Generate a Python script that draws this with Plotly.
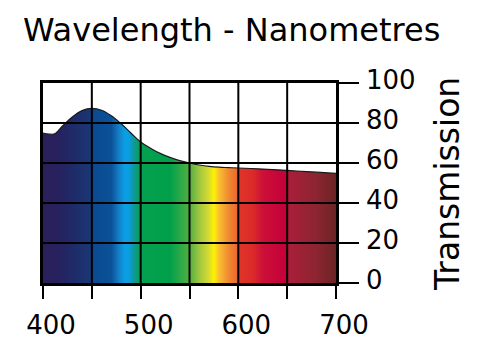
import plotly.graph_objects as go

# Transmission curve
wavelength = [400, 406, 412, 420, 430, 440, 450, 460, 470, 480, 490, 500, 510, 520,
              530, 540, 550, 560, 570, 580, 590, 600, 620, 640, 660, 680, 700]
transmission = [75.0, 74.5, 74.6, 78.5, 83.0, 86.2, 87.3, 86.4, 83.6, 79.6, 75.0, 70.5,
                67.4, 64.8, 62.8, 61.2, 60.0, 59.0, 58.3, 57.9, 57.7, 57.5, 57.1, 56.6,
                56.0, 55.4, 54.8]

# Spectrum colours along the wavelength axis
spectrum_nm = [400, 415, 430, 448, 452, 470, 478, 484, 488, 493, 499, 530, 540, 550,
               560, 570, 575, 580, 590, 598, 602, 615, 625, 648, 652, 680, 700]
spectrum_col = ["#2a1f5a", "#27215e", "#1f2a68", "#1b3674", "#0b4a90", "#0a5298",
                "#1580c8", "#0aa0e6", "#0a9ee0", "#10989a", "#05a050", "#00a04a",
                "#2aa848", "#50b040", "#a0c640", "#d8dc30", "#fff200", "#f8c030",
                "#f08a30", "#ee6a30", "#e03428", "#dc2a2a", "#cc1038", "#c4003a",
                "#aa1e3a", "#8c2530", "#6a2424"]

x_ticks = [400, 450, 500, 550, 600, 650, 700]
x_labels = ["400", "", "500", "", "600", "", "700"]
y_ticks = [0, 20, 40, 60, 80, 100]
y_labels = ["0", "20", "40", "60", "80", "100"]

xmin, xmax = 400, 700
ymin, ymax = 0, 100

colorscale = [[(w - xmin) / (xmax - xmin), c] for w, c in zip(spectrum_nm, spectrum_col)]

fig = go.Figure()
fig.add_trace(go.Scatter(
    x=wavelength, y=transmission, mode="lines", line=dict(color="#1a1a1a", width=1.2, shape="spline"),
    fill="tozeroy",
    fillgradient=dict(type="horizontal", colorscale=colorscale, start=xmin, stop=xmax),
    hoverinfo="skip", showlegend=False,
))

# grid lines drawn above the filled area
gx, gy = [], []
for t in x_ticks[1:-1]:
    gx += [t, t, None]
    gy += [ymin, ymax, None]
for t in y_ticks[1:-1]:
    gx += [xmin, xmax, None]
    gy += [t, t, None]
fig.add_trace(go.Scatter(x=gx, y=gy, mode="lines", line=dict(color="black", width=2),
                         hoverinfo="skip", showlegend=False))

font = "DejaVu Sans"
fig.update_layout(
    width=500, height=352,
    margin=dict(l=43, r=164, t=83, b=59),
    paper_bgcolor="white", plot_bgcolor="white",
    xaxis=dict(range=[xmin, xmax], tickvals=x_ticks, ticktext=x_labels,
               ticks="outside", ticklen=13, tickwidth=2, tickcolor="black",
               showline=True, mirror=True, linewidth=2.5, linecolor="black",
               showgrid=False, zeroline=False, layer="above traces",
               ticklabelshift=8, ticklabelstandoff=4,
               tickfont=dict(family=font, size=26, color="black")),
    yaxis=dict(range=[ymin, ymax], tickvals=y_ticks, ticktext=y_labels, side="right",
               ticks="outside", ticklen=20, tickwidth=2, tickcolor="black",
               showline=True, mirror=True, linewidth=2.5, linecolor="black",
               showgrid=False, zeroline=False, layer="above traces",
               ticklabelstandoff=2, ticklabelshift=-3,
               tickfont=dict(family=font, size=26, color="black")),
    annotations=[
        dict(text="Wavelength - Nanometres", xref="paper", yref="paper",
             x=-0.075, y=1.267, xanchor="left", yanchor="middle", showarrow=False,
             font=dict(family=font, size=32, color="black")),
        dict(text="Transmission", xref="paper", yref="paper", textangle=-90,
             x=1.38, y=0.497, xanchor="center", yanchor="middle", showarrow=False,
             font=dict(family=font, size=33, color="black")),
    ],
)

fig.write_html("out.html")
